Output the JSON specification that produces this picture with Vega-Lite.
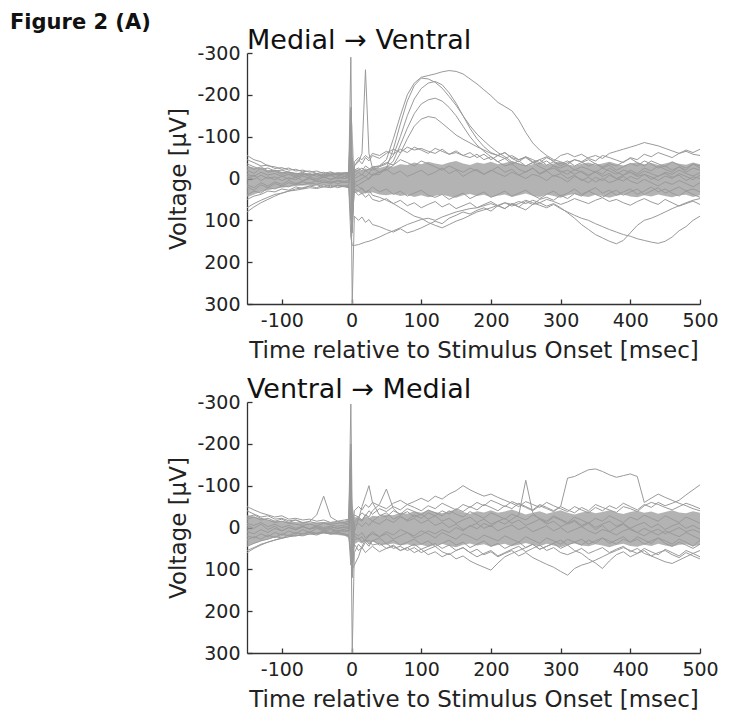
{
"$schema": "https://vega.github.io/schema/vega-lite/v6.json",
"padding": {"left": 10, "top": 12, "right": 5, "bottom": 5},
"background": "white",
"title": {"text": "Figure 2 (A)", "anchor": "start", "frame": "group", "fontSize": 21, "fontWeight": "bold", "font": "DejaVu Sans", "color": "#111", "dx": -237, "dy": 6, "offset": 0},
"bounds": "flush",
"spacing": 98,
"config": {
 "font": "DejaVu Sans",
 "view": {"stroke": null},
 "title": {"anchor": "start", "frame": "group", "fontSize": 27, "fontWeight": "normal", "font": "DejaVu Sans", "color": "#111", "offset": -11},
 "axis": {"grid": false, "domainColor": "#333", "domainWidth": 1.3, "tickColor": "#333", "tickWidth": 1.3, "tickSize": -5, "labelFontSize": 19, "labelColor": "#222", "labelFont": "DejaVu Sans", "titleFont": "DejaVu Sans", "titleFontSize": 23, "titleFontWeight": "normal", "titleColor": "#222", "labelFlush": false, "labelExpr": "'' + datum.value"},
 "axisX": {"labelPadding": 12, "titleY": 53, "titleBaseline": "alphabetic"},
 "axisY": {"labelPadding": 12, "titleX": -57}
},
"datasets": {
"top": [
{"t":-150,"a":-10,"b":15,"c":-30,"d":40,"e":-5,"f":50,"g":20,"h":-20,"i":-45,"j":0,"k":-55,"l":70,"m":80,"n":-35,"lo":-30,"hi":45},
{"t":-140,"a":-5,"b":22,"c":-22,"d":30,"e":2,"f":42,"g":28,"h":-12,"i":-38,"j":-8,"k":-45,"l":60,"m":68,"n":-28,"lo":-26,"hi":38},
{"t":-130,"a":-15,"b":10,"c":-28,"d":35,"e":-8,"f":38,"g":15,"h":-25,"i":-30,"j":5,"k":-40,"l":52,"m":58,"n":-22,"lo":-22,"hi":32},
{"t":-120,"a":-8,"b":18,"c":-18,"d":22,"e":0,"f":30,"g":22,"h":-15,"i":-32,"j":-4,"k":-30,"l":45,"m":50,"n":-25,"lo":-20,"hi":28},
{"t":-110,"a":-12,"b":8,"c":-20,"d":25,"e":-4,"f":32,"g":12,"h":-18,"i":-24,"j":3,"k":-28,"l":38,"m":42,"n":-18,"lo":-18,"hi":24},
{"t":-100,"a":-5,"b":14,"c":-14,"d":18,"e":5,"f":25,"g":18,"h":-10,"i":-26,"j":-6,"k":-22,"l":35,"m":35,"n":-20,"lo":-16,"hi":22},
{"t":-90,"a":-10,"b":5,"c":-16,"d":20,"e":-2,"f":28,"g":10,"h":-14,"i":-20,"j":2,"k":-25,"l":30,"m":30,"n":-15,"lo":-15,"hi":20},
{"t":-80,"a":-3,"b":12,"c":-10,"d":12,"e":3,"f":20,"g":15,"h":-6,"i":-22,"j":-3,"k":-18,"l":28,"m":25,"n":-12,"lo":-14,"hi":18},
{"t":-70,"a":-8,"b":6,"c":-15,"d":15,"e":-6,"f":24,"g":8,"h":-12,"i":-16,"j":5,"k":-20,"l":25,"m":22,"n":-10,"lo":-13,"hi":17},
{"t":-60,"a":-12,"b":0,"c":-8,"d":10,"e":0,"f":18,"g":12,"h":-4,"i":-18,"j":-2,"k":-15,"l":22,"m":18,"n":-8,"lo":-12,"hi":16},
{"t":-50,"a":-5,"b":8,"c":-12,"d":14,"e":4,"f":22,"g":5,"h":-10,"i":-12,"j":0,"k":-18,"l":24,"m":15,"n":-12,"lo":-12,"hi":16},
{"t":-40,"a":-10,"b":3,"c":-6,"d":8,"e":-3,"f":15,"g":10,"h":-2,"i":-15,"j":-5,"k":-12,"l":20,"m":20,"n":-6,"lo":-12,"hi":16},
{"t":-30,"a":-6,"b":10,"c":-14,"d":12,"e":2,"f":20,"g":6,"h":-8,"i":-10,"j":3,"k":-16,"l":22,"m":16,"n":-10,"lo":-13,"hi":17},
{"t":-20,"a":-12,"b":4,"c":-9,"d":6,"e":-5,"f":16,"g":12,"h":0,"i":-14,"j":-2,"k":-10,"l":18,"m":22,"n":-8,"lo":-14,"hi":18},
{"t":-10,"a":-8,"b":7,"c":-12,"d":10,"e":0,"f":18,"g":8,"h":-5,"i":-12,"j":0,"k":-14,"l":20,"m":18,"n":-5,"lo":-15,"hi":20},
{"t":-4,"a":-10,"b":5,"c":-10,"d":8,"e":-2,"f":20,"g":10,"h":-3,"i":-15,"j":-5,"k":-12,"l":22,"m":15,"n":-8,"lo":-16,"hi":22},
{"t":-1,"a":-140,"b":-100,"c":-160,"d":-80,"e":-60,"f":140,"g":-90,"h":-120,"i":-170,"j":-110,"k":-290,"l":-40,"m":100,"n":-60,"lo":-160,"hi":110},
{"t":1,"a":70,"b":90,"c":40,"d":120,"e":60,"f":160,"g":100,"h":80,"i":110,"j":70,"k":20,"l":300,"m":-50,"n":130,"lo":-130,"hi":140},
{"t":4,"a":-15,"b":10,"c":-20,"d":20,"e":0,"f":160,"g":30,"h":10,"i":-40,"j":-30,"k":-30,"l":90,"m":25,"n":-5,"lo":-20,"hi":35},
{"t":10,"a":-20,"b":5,"c":-25,"d":15,"e":-5,"f":158,"g":40,"h":20,"i":-50,"j":-40,"k":-45,"l":100,"m":30,"n":-15,"lo":-22,"hi":32},
{"t":15,"a":-25,"b":0,"c":-18,"d":10,"e":-10,"f":155,"g":35,"h":25,"i":-45,"j":-60,"k":-35,"l":92,"m":22,"n":-8,"lo":-18,"hi":38},
{"t":20,"a":-18,"b":-5,"c":-30,"d":5,"e":-4,"f":152,"g":45,"h":32,"i":-55,"j":-260,"k":-50,"l":105,"m":35,"n":-20,"lo":-24,"hi":34},
{"t":25,"a":-22,"b":2,"c":-24,"d":0,"e":-12,"f":150,"g":38,"h":28,"i":-48,"j":-60,"k":-42,"l":98,"m":28,"n":-12,"lo":-22,"hi":36},
{"t":30,"a":-28,"b":-8,"c":-20,"d":-10,"e":-8,"f":147,"g":50,"h":40,"i":-60,"j":-25,"k":-55,"l":110,"m":20,"n":-25,"lo":-26,"hi":33},
{"t":40,"a":-30,"b":-10,"c":-28,"d":-15,"e":-15,"f":140,"g":55,"h":45,"i":-55,"j":-15,"k":-48,"l":115,"m":32,"n":-30,"lo":-25,"hi":38},
{"t":50,"a":-45,"b":-25,"c":-35,"d":-25,"e":-20,"f":132,"g":48,"h":52,"i":-65,"j":-22,"k":-60,"l":122,"m":25,"n":-38,"lo":-30,"hi":40},
{"t":60,"a":-95,"b":-70,"c":-55,"d":-42,"e":-32,"f":125,"g":60,"h":60,"i":-58,"j":-10,"k":-70,"l":128,"m":38,"n":-32,"lo":-28,"hi":37},
{"t":70,"a":-150,"b":-130,"c":-100,"d":-80,"e":-60,"f":118,"g":52,"h":70,"i":-70,"j":-18,"k":-62,"l":120,"m":30,"n":-45,"lo":-34,"hi":42},
{"t":80,"a":-200,"b":-185,"c":-150,"d":-120,"e":-95,"f":110,"g":65,"h":80,"i":-62,"j":-5,"k":-75,"l":130,"m":42,"n":-38,"lo":-32,"hi":39},
{"t":90,"a":-228,"b":-222,"c":-190,"d":-155,"e":-125,"f":104,"g":58,"h":90,"i":-75,"j":-12,"k":-68,"l":125,"m":35,"n":-30,"lo":-38,"hi":44},
{"t":100,"a":-242,"b":-240,"c":-215,"d":-178,"e":-142,"f":98,"g":70,"h":95,"i":-68,"j":-20,"k":-72,"l":118,"m":28,"n":-42,"lo":-34,"hi":40},
{"t":110,"a":-246,"b":-238,"c":-228,"d":-188,"e":-148,"f":95,"g":62,"h":105,"i":-60,"j":-8,"k":-65,"l":110,"m":40,"n":-35,"lo":-40,"hi":45},
{"t":120,"a":-250,"b":-230,"c":-232,"d":-192,"e":-145,"f":100,"g":55,"h":112,"i":-72,"j":-15,"k":-60,"l":102,"m":45,"n":-28,"lo":-36,"hi":41},
{"t":130,"a":-255,"b":-216,"c":-224,"d":-185,"e":-132,"f":92,"g":68,"h":118,"i":-65,"j":-25,"k":-70,"l":108,"m":38,"n":-20,"lo":-33,"hi":38},
{"t":140,"a":-258,"b":-196,"c":-205,"d":-170,"e":-118,"f":86,"g":60,"h":110,"i":-58,"j":-12,"k":-58,"l":95,"m":50,"n":-30,"lo":-38,"hi":43},
{"t":150,"a":-256,"b":-175,"c":-180,"d":-150,"e":-104,"f":80,"g":72,"h":102,"i":-62,"j":-20,"k":-66,"l":88,"m":42,"n":-22,"lo":-42,"hi":46},
{"t":160,"a":-250,"b":-150,"c":-150,"d":-125,"e":-94,"f":76,"g":65,"h":96,"i":-55,"j":-5,"k":-55,"l":80,"m":35,"n":-15,"lo":-36,"hi":40},
{"t":170,"a":-238,"b":-126,"c":-120,"d":-100,"e":-85,"f":72,"g":58,"h":88,"i":-50,"j":-15,"k":-62,"l":85,"m":48,"n":-25,"lo":-32,"hi":37},
{"t":180,"a":-226,"b":-106,"c":-95,"d":-80,"e":-76,"f":70,"g":70,"h":80,"i":-58,"j":-22,"k":-50,"l":76,"m":40,"n":-18,"lo":-38,"hi":42},
{"t":190,"a":-212,"b":-90,"c":-76,"d":-65,"e":-68,"f":65,"g":62,"h":75,"i":-45,"j":-10,"k":-58,"l":70,"m":32,"n":-10,"lo":-35,"hi":39},
{"t":200,"a":-198,"b":-75,"c":-62,"d":-52,"e":-60,"f":60,"g":55,"h":70,"i":-52,"j":-18,"k":-45,"l":78,"m":45,"n":-20,"lo":-40,"hi":45},
{"t":210,"a":-182,"b":-62,"c":-55,"d":-40,"e":-55,"f":66,"g":65,"h":64,"i":-40,"j":-28,"k":-55,"l":65,"m":38,"n":-12,"lo":-34,"hi":41},
{"t":220,"a":-172,"b":-52,"c":-48,"d":-30,"e":-62,"f":58,"g":72,"h":58,"i":-48,"j":-15,"k":-62,"l":72,"m":30,"n":-5,"lo":-37,"hi":38},
{"t":230,"a":-162,"b":-40,"c":-55,"d":-35,"e":-50,"f":62,"g":60,"h":66,"i":-35,"j":-22,"k":-48,"l":60,"m":42,"n":-15,"lo":-42,"hi":44},
{"t":240,"a":-140,"b":-35,"c":-45,"d":-22,"e":-45,"f":55,"g":68,"h":60,"i":-42,"j":-8,"k":-40,"l":68,"m":35,"n":-8,"lo":-36,"hi":40},
{"t":250,"a":-110,"b":-30,"c":-50,"d":-15,"e":-52,"f":60,"g":75,"h":52,"i":-30,"j":-16,"k":-52,"l":55,"m":28,"n":0,"lo":-30,"hi":36},
{"t":260,"a":-85,"b":-38,"c":-38,"d":-25,"e":-40,"f":52,"g":62,"h":58,"i":-38,"j":-25,"k":-45,"l":62,"m":40,"n":-10,"lo":-34,"hi":41},
{"t":270,"a":-68,"b":-28,"c":-45,"d":-10,"e":-35,"f":58,"g":58,"h":64,"i":-45,"j":-12,"k":-38,"l":50,"m":48,"n":-5,"lo":-38,"hi":44},
{"t":280,"a":-55,"b":-20,"c":-52,"d":-18,"e":-42,"f":50,"g":66,"h":70,"i":-32,"j":-20,"k":-50,"l":45,"m":38,"n":5,"lo":-32,"hi":38},
{"t":290,"a":-45,"b":-25,"c":-40,"d":-5,"e":-30,"f":55,"g":60,"h":62,"i":-40,"j":-30,"k":-42,"l":52,"m":30,"n":-8,"lo":-36,"hi":42},
{"t":300,"a":-40,"b":-15,"c":-35,"d":-12,"e":-25,"f":62,"g":70,"h":72,"i":-30,"j":-18,"k":-55,"l":40,"m":42,"n":-2,"lo":-40,"hi":46},
{"t":310,"a":-34,"b":-20,"c":-42,"d":0,"e":-32,"f":56,"g":82,"h":80,"i":-38,"j":-10,"k":-60,"l":48,"m":35,"n":8,"lo":-34,"hi":40},
{"t":320,"a":-45,"b":-10,"c":-30,"d":-8,"e":-20,"f":48,"g":95,"h":88,"i":-45,"j":-22,"k":-52,"l":36,"m":25,"n":-5,"lo":-30,"hi":37},
{"t":330,"a":-40,"b":-18,"c":-38,"d":5,"e":-28,"f":54,"g":110,"h":95,"i":-40,"j":-15,"k":-58,"l":42,"m":38,"n":2,"lo":-35,"hi":42},
{"t":340,"a":-30,"b":-8,"c":-45,"d":-3,"e":-22,"f":60,"g":122,"h":100,"i":-50,"j":-5,"k":-48,"l":30,"m":30,"n":10,"lo":-38,"hi":44},
{"t":350,"a":-36,"b":-15,"c":-35,"d":8,"e":-15,"f":52,"g":134,"h":108,"i":-55,"j":-18,"k":-42,"l":38,"m":22,"n":-3,"lo":-33,"hi":39},
{"t":360,"a":-25,"b":-5,"c":-28,"d":0,"e":-25,"f":46,"g":142,"h":115,"i":-48,"j":-10,"k":-55,"l":45,"m":35,"n":5,"lo":-36,"hi":42},
{"t":370,"a":-32,"b":-12,"c":-36,"d":10,"e":-18,"f":55,"g":150,"h":122,"i":-60,"j":-25,"k":-50,"l":35,"m":28,"n":-8,"lo":-40,"hi":46},
{"t":380,"a":-20,"b":0,"c":-30,"d":4,"e":-10,"f":50,"g":156,"h":128,"i":-65,"j":-15,"k":-44,"l":28,"m":40,"n":0,"lo":-35,"hi":41},
{"t":390,"a":-28,"b":-8,"c":-40,"d":-5,"e":-20,"f":58,"g":148,"h":134,"i":-70,"j":-8,"k":-38,"l":40,"m":32,"n":6,"lo":-31,"hi":38},
{"t":400,"a":-36,"b":-15,"c":-48,"d":6,"e":-15,"f":64,"g":130,"h":138,"i":-75,"j":-20,"k":-50,"l":32,"m":25,"n":-5,"lo":-36,"hi":43},
{"t":410,"a":-30,"b":-5,"c":-38,"d":12,"e":-8,"f":55,"g":112,"h":144,"i":-80,"j":-12,"k":-45,"l":25,"m":38,"n":2,"lo":-39,"hi":45},
{"t":420,"a":-42,"b":-10,"c":-30,"d":2,"e":-18,"f":48,"g":100,"h":148,"i":-86,"j":-25,"k":-58,"l":38,"m":30,"n":-10,"lo":-34,"hi":40},
{"t":430,"a":-35,"b":2,"c":-42,"d":10,"e":-12,"f":56,"g":95,"h":152,"i":-82,"j":-18,"k":-52,"l":30,"m":20,"n":-4,"lo":-37,"hi":43},
{"t":440,"a":-25,"b":-6,"c":-35,"d":18,"e":-5,"f":62,"g":88,"h":155,"i":-78,"j":-30,"k":-62,"l":22,"m":32,"n":5,"lo":-32,"hi":38},
{"t":450,"a":-30,"b":-12,"c":-28,"d":8,"e":-15,"f":50,"g":80,"h":150,"i":-72,"j":-22,"k":-56,"l":35,"m":25,"n":-6,"lo":-36,"hi":42},
{"t":460,"a":-20,"b":-3,"c":-40,"d":14,"e":-10,"f":58,"g":72,"h":140,"i":-66,"j":-15,"k":-50,"l":28,"m":35,"n":0,"lo":-40,"hi":45},
{"t":470,"a":-28,"b":-8,"c":-32,"d":5,"e":-20,"f":66,"g":65,"h":125,"i":-60,"j":-28,"k":-60,"l":20,"m":42,"n":-12,"lo":-35,"hi":40},
{"t":480,"a":-15,"b":5,"c":-25,"d":12,"e":-12,"f":60,"g":58,"h":115,"i":-65,"j":-20,"k":-68,"l":30,"m":30,"n":-5,"lo":-33,"hi":39},
{"t":490,"a":-25,"b":-4,"c":-35,"d":20,"e":-6,"f":54,"g":52,"h":100,"i":-58,"j":-35,"k":-62,"l":25,"m":38,"n":3,"lo":-38,"hi":44},
{"t":500,"a":-20,"b":0,"c":-30,"d":10,"e":-14,"f":62,"g":48,"h":90,"i":-55,"j":-25,"k":-70,"l":32,"m":45,"n":-8,"lo":-34,"hi":40}
],
"bot": [
{"t":-150,"a":-40,"b":60,"c":10,"d":-20,"e":30,"f":-10,"g":45,"h":-5,"i":-50,"j":20,"k":55,"l":-25,"lo":-30,"hi":45},
{"t":-140,"a":-32,"b":50,"c":15,"d":-25,"e":22,"f":-5,"g":38,"h":2,"i":-42,"j":25,"k":48,"l":-30,"lo":-26,"hi":38},
{"t":-130,"a":-25,"b":42,"c":5,"d":-18,"e":28,"f":-12,"g":32,"h":-8,"i":-35,"j":15,"k":40,"l":-22,"lo":-22,"hi":32},
{"t":-120,"a":-28,"b":35,"c":12,"d":-22,"e":18,"f":-2,"g":28,"h":5,"i":-30,"j":22,"k":35,"l":-18,"lo":-18,"hi":28},
{"t":-110,"a":-20,"b":30,"c":2,"d":-15,"e":24,"f":-8,"g":22,"h":-3,"i":-25,"j":12,"k":30,"l":-12,"lo":-16,"hi":24},
{"t":-100,"a":-22,"b":25,"c":8,"d":-20,"e":15,"f":0,"g":25,"h":8,"i":-28,"j":18,"k":26,"l":-15,"lo":-15,"hi":22},
{"t":-90,"a":-16,"b":22,"c":0,"d":-12,"e":20,"f":-5,"g":18,"h":0,"i":-20,"j":8,"k":22,"l":-10,"lo":-14,"hi":20},
{"t":-80,"a":-18,"b":18,"c":5,"d":-18,"e":12,"f":2,"g":20,"h":6,"i":-22,"j":15,"k":20,"l":-8,"lo":-13,"hi":18},
{"t":-70,"a":-12,"b":20,"c":-2,"d":-10,"e":16,"f":-3,"g":15,"h":-2,"i":-18,"j":5,"k":18,"l":-5,"lo":-12,"hi":16},
{"t":-60,"a":-14,"b":15,"c":3,"d":-15,"e":10,"f":4,"g":12,"h":4,"i":-20,"j":12,"k":16,"l":-8,"lo":-12,"hi":15},
{"t":-50,"a":-10,"b":18,"c":-5,"d":-30,"e":14,"f":-2,"g":16,"h":0,"i":-15,"j":2,"k":14,"l":-4,"lo":-12,"hi":15},
{"t":-40,"a":-12,"b":12,"c":0,"d":-75,"e":8,"f":3,"g":10,"h":5,"i":-18,"j":8,"k":12,"l":-10,"lo":-12,"hi":15},
{"t":-30,"a":-8,"b":16,"c":-3,"d":-25,"e":12,"f":-1,"g":14,"h":2,"i":-12,"j":5,"k":15,"l":-6,"lo":-13,"hi":16},
{"t":-20,"a":-10,"b":14,"c":2,"d":-15,"e":6,"f":2,"g":12,"h":8,"i":-15,"j":10,"k":12,"l":-3,"lo":-14,"hi":18},
{"t":-10,"a":-12,"b":18,"c":-2,"d":-10,"e":10,"f":0,"g":15,"h":4,"i":-18,"j":6,"k":16,"l":-6,"lo":-16,"hi":20},
{"t":-4,"a":-15,"b":20,"c":0,"d":-8,"e":8,"f":-2,"g":18,"h":2,"i":-20,"j":8,"k":20,"l":-8,"lo":-20,"hi":25},
{"t":-1,"a":-295,"b":-60,"c":-120,"d":-80,"e":-40,"f":-150,"g":90,"h":-100,"i":-200,"j":-130,"k":60,"l":-180,"lo":-140,"hi":80},
{"t":1,"a":-20,"b":300,"c":80,"d":110,"e":90,"f":60,"g":-30,"h":120,"i":40,"j":90,"k":100,"l":70,"lo":-60,"hi":120},
{"t":4,"a":-30,"b":60,"c":10,"d":-10,"e":15,"f":-5,"g":20,"h":40,"i":-40,"j":30,"k":90,"l":-15,"lo":-25,"hi":40},
{"t":10,"a":-25,"b":40,"c":-20,"d":-20,"e":20,"f":-10,"g":28,"h":55,"i":-50,"j":25,"k":70,"l":-25,"lo":-24,"hi":34},
{"t":15,"a":-35,"b":50,"c":-50,"d":-15,"e":12,"f":-2,"g":22,"h":48,"i":-42,"j":35,"k":45,"l":-18,"lo":-20,"hi":38},
{"t":20,"a":-28,"b":35,"c":-75,"d":-30,"e":25,"f":-12,"g":35,"h":60,"i":-55,"j":28,"k":30,"l":-30,"lo":-26,"hi":33},
{"t":25,"a":-40,"b":45,"c":-100,"d":-25,"e":18,"f":-5,"g":30,"h":52,"i":-48,"j":40,"k":20,"l":-22,"lo":-23,"hi":37},
{"t":30,"a":-32,"b":30,"c":-60,"d":-40,"e":10,"f":-15,"g":42,"h":45,"i":-60,"j":32,"k":15,"l":-15,"lo":-28,"hi":34},
{"t":40,"a":-45,"b":42,"c":-30,"d":-55,"e":22,"f":-8,"g":38,"h":58,"i":-52,"j":25,"k":22,"l":-28,"lo":-26,"hi":39},
{"t":50,"a":-38,"b":38,"c":-25,"d":-92,"e":15,"f":-20,"g":50,"h":50,"i":-45,"j":38,"k":10,"l":-35,"lo":-31,"hi":41},
{"t":60,"a":-50,"b":50,"c":-40,"d":-45,"e":28,"f":-12,"g":45,"h":42,"i":-58,"j":30,"k":18,"l":-20,"lo":-29,"hi":38},
{"t":70,"a":-42,"b":45,"c":-32,"d":-30,"e":20,"f":-25,"g":55,"h":55,"i":-65,"j":42,"k":5,"l":-28,"lo":-35,"hi":43},
{"t":80,"a":-55,"b":55,"c":-45,"d":-38,"e":12,"f":-18,"g":48,"h":48,"i":-55,"j":35,"k":12,"l":-15,"lo":-33,"hi":40},
{"t":90,"a":-48,"b":48,"c":-38,"d":-25,"e":25,"f":-30,"g":60,"h":40,"i":-62,"j":28,"k":20,"l":-22,"lo":-39,"hi":45},
{"t":100,"a":-40,"b":60,"c":-30,"d":-32,"e":18,"f":-22,"g":52,"h":52,"i":-70,"j":40,"k":8,"l":-10,"lo":-35,"hi":41},
{"t":110,"a":-52,"b":52,"c":-42,"d":-20,"e":8,"f":-35,"g":65,"h":45,"i":-62,"j":32,"k":15,"l":-18,"lo":-41,"hi":46},
{"t":120,"a":-45,"b":45,"c":-35,"d":-28,"e":15,"f":-28,"g":58,"h":38,"i":-75,"j":45,"k":25,"l":-5,"lo":-37,"hi":42},
{"t":130,"a":-58,"b":58,"c":-28,"d":-15,"e":5,"f":-40,"g":70,"h":50,"i":-68,"j":38,"k":12,"l":-12,"lo":-34,"hi":39},
{"t":140,"a":-50,"b":65,"c":-40,"d":-22,"e":12,"f":-32,"g":62,"h":42,"i":-80,"j":30,"k":20,"l":0,"lo":-39,"hi":44},
{"t":150,"a":-42,"b":55,"c":-32,"d":-10,"e":0,"f":-45,"g":75,"h":55,"i":-88,"j":42,"k":28,"l":-8,"lo":-43,"hi":47},
{"t":160,"a":-55,"b":48,"c":-25,"d":-18,"e":8,"f":-38,"g":68,"h":48,"i":-100,"j":35,"k":15,"l":5,"lo":-37,"hi":41},
{"t":170,"a":-48,"b":60,"c":-38,"d":-25,"e":-5,"f":-50,"g":80,"h":60,"i":-90,"j":48,"k":22,"l":-3,"lo":-33,"hi":38},
{"t":180,"a":-60,"b":70,"c":-30,"d":-12,"e":3,"f":-42,"g":88,"h":52,"i":-82,"j":40,"k":30,"l":-10,"lo":-39,"hi":43},
{"t":190,"a":-52,"b":62,"c":-22,"d":-20,"e":-10,"f":-55,"g":95,"h":65,"i":-75,"j":32,"k":18,"l":2,"lo":-36,"hi":40},
{"t":200,"a":-65,"b":55,"c":-35,"d":-8,"e":-2,"f":-48,"g":102,"h":58,"i":-80,"j":45,"k":25,"l":-5,"lo":-41,"hi":46},
{"t":210,"a":-58,"b":68,"c":-28,"d":-15,"e":-15,"f":-40,"g":85,"h":70,"i":-72,"j":38,"k":32,"l":8,"lo":-35,"hi":42},
{"t":220,"a":-50,"b":60,"c":-20,"d":-22,"e":-8,"f":-52,"g":70,"h":62,"i":-65,"j":50,"k":20,"l":0,"lo":-38,"hi":39},
{"t":230,"a":-62,"b":52,"c":-32,"d":-10,"e":-20,"f":-45,"g":62,"h":55,"i":-58,"j":42,"k":28,"l":-6,"lo":-43,"hi":45},
{"t":240,"a":-55,"b":45,"c":-25,"d":-18,"e":-30,"f":-58,"g":55,"h":68,"i":-50,"j":35,"k":35,"l":5,"lo":-37,"hi":41},
{"t":250,"a":-48,"b":58,"c":-18,"d":-5,"e":-113,"f":-50,"g":48,"h":60,"i":-62,"j":48,"k":22,"l":-2,"lo":-31,"hi":37},
{"t":260,"a":-40,"b":50,"c":-30,"d":-12,"e":-35,"f":-42,"g":40,"h":72,"i":-55,"j":40,"k":30,"l":10,"lo":-35,"hi":42},
{"t":270,"a":-52,"b":42,"c":-22,"d":-20,"e":-20,"f":-55,"g":52,"h":80,"i":-48,"j":52,"k":38,"l":3,"lo":-39,"hi":45},
{"t":280,"a":-45,"b":55,"c":-15,"d":-8,"e":-12,"f":-48,"g":45,"h":88,"i":-60,"j":45,"k":25,"l":-4,"lo":-33,"hi":39},
{"t":290,"a":-38,"b":48,"c":-28,"d":-15,"e":-25,"f":-40,"g":38,"h":95,"i":-52,"j":38,"k":32,"l":8,"lo":-37,"hi":43},
{"t":300,"a":-50,"b":60,"c":-20,"d":-2,"e":-18,"f":-50,"g":30,"h":105,"i":-45,"j":50,"k":40,"l":0,"lo":-41,"hi":47},
{"t":310,"a":-42,"b":65,"c":-12,"d":-10,"e":-8,"f":-118,"g":42,"h":114,"i":-38,"j":42,"k":28,"l":12,"lo":-35,"hi":41},
{"t":320,"a":-35,"b":58,"c":-25,"d":-18,"e":-15,"f":-122,"g":35,"h":98,"i":-50,"j":55,"k":35,"l":5,"lo":-31,"hi":38},
{"t":330,"a":-48,"b":50,"c":-18,"d":-5,"e":-2,"f":-130,"g":28,"h":90,"i":-42,"j":62,"k":42,"l":-2,"lo":-36,"hi":43},
{"t":340,"a":-40,"b":62,"c":-10,"d":-12,"e":-10,"f":-138,"g":40,"h":85,"i":-35,"j":75,"k":30,"l":8,"lo":-39,"hi":45},
{"t":350,"a":-55,"b":55,"c":-22,"d":0,"e":5,"f":-140,"g":32,"h":78,"i":-48,"j":85,"k":38,"l":15,"lo":-34,"hi":40},
{"t":360,"a":-48,"b":48,"c":-15,"d":-8,"e":-5,"f":-134,"g":25,"h":70,"i":-40,"j":98,"k":25,"l":5,"lo":-37,"hi":43},
{"t":370,"a":-42,"b":60,"c":-28,"d":-15,"e":10,"f":-126,"g":38,"h":62,"i":-52,"j":80,"k":32,"l":10,"lo":-41,"hi":47},
{"t":380,"a":-36,"b":52,"c":-20,"d":-3,"e":0,"f":-120,"g":30,"h":55,"i":-45,"j":65,"k":40,"l":18,"lo":-36,"hi":42},
{"t":390,"a":-50,"b":45,"c":-12,"d":-10,"e":-8,"f":-124,"g":22,"h":48,"i":-58,"j":58,"k":28,"l":8,"lo":-32,"hi":39},
{"t":400,"a":-45,"b":58,"c":-25,"d":2,"e":5,"f":-128,"g":35,"h":55,"i":-50,"j":70,"k":35,"l":2,"lo":-37,"hi":44},
{"t":410,"a":-38,"b":50,"c":-18,"d":-6,"e":12,"f":-122,"g":28,"h":62,"i":-42,"j":62,"k":22,"l":12,"lo":-40,"hi":46},
{"t":420,"a":-52,"b":62,"c":-30,"d":-12,"e":2,"f":-60,"g":40,"h":50,"i":-55,"j":55,"k":30,"l":20,"lo":-35,"hi":41},
{"t":430,"a":-60,"b":68,"c":-22,"d":0,"e":10,"f":-70,"g":32,"h":58,"i":-48,"j":68,"k":38,"l":10,"lo":-38,"hi":44},
{"t":440,"a":-55,"b":60,"c":-15,"d":-8,"e":18,"f":-80,"g":25,"h":65,"i":-60,"j":75,"k":25,"l":4,"lo":-33,"hi":39},
{"t":450,"a":-48,"b":55,"c":-28,"d":5,"e":8,"f":-72,"g":38,"h":52,"i":-52,"j":82,"k":32,"l":15,"lo":-37,"hi":43},
{"t":460,"a":-42,"b":65,"c":-20,"d":-4,"e":15,"f":-65,"g":45,"h":60,"i":-58,"j":86,"k":40,"l":8,"lo":-41,"hi":46},
{"t":470,"a":-50,"b":72,"c":-12,"d":-10,"e":22,"f":-58,"g":35,"h":68,"i":-65,"j":78,"k":28,"l":0,"lo":-36,"hi":41},
{"t":480,"a":-58,"b":60,"c":-25,"d":2,"e":12,"f":-52,"g":42,"h":55,"i":-78,"j":70,"k":35,"l":10,"lo":-34,"hi":40},
{"t":490,"a":-52,"b":68,"c":-18,"d":-5,"e":20,"f":-45,"g":50,"h":62,"i":-90,"j":62,"k":45,"l":5,"lo":-39,"hi":45},
{"t":500,"a":-45,"b":75,"c":-10,"d":4,"e":28,"f":-40,"g":40,"h":70,"i":-102,"j":55,"k":30,"l":12,"lo":-35,"hi":41}
]
},
"vconcat": [
{
 "width": 453, "height": 251,
 "title": {"text": "Medial → Ventral"},
 "data": {"name": "top"},
 "layer": [
  {"mark": {"type": "area", "color": "#9a9a9a", "opacity": 0.75},
   "encoding": {
    "x": {"field": "t", "type": "quantitative", "scale": {"domain": [-150, 500], "nice": false, "zero": false}, "axis": {"title": "Time relative to Stimulus Onset [msec]", "values": [-100, 0, 100, 200, 300, 400, 500]}},
    "y": {"field": "lo", "type": "quantitative", "scale": {"domain": [-300, 300], "reverse": true, "nice": false}, "axis": {"title": "Voltage [μV]", "values": [-300, -200, -100, 0, 100, 200, 300]}},
    "y2": {"field": "hi"}}},
  {"transform": [{"fold": ["a","b","c","d","e","f","g","h","i","j","k","l","m","n"], "as": ["s", "v"]}],
   "mark": {"type": "line", "color": "#9a9a9a", "strokeWidth": 1},
   "encoding": {
    "x": {"field": "t", "type": "quantitative", "scale": {"domain": [-150, 500], "nice": false, "zero": false}, "axis": {"title": "Time relative to Stimulus Onset [msec]", "values": [-100, 0, 100, 200, 300, 400, 500]}},
    "y": {"field": "v", "type": "quantitative", "scale": {"domain": [-300, 300], "reverse": true, "nice": false}, "axis": {"title": "Voltage [μV]", "values": [-300, -200, -100, 0, 100, 200, 300]}},
    "detail": {"field": "s", "type": "nominal"}}}
 ]
},
{
 "width": 453, "height": 251,
 "title": {"text": "Ventral → Medial"},
 "data": {"name": "bot"},
 "layer": [
  {"mark": {"type": "area", "color": "#9a9a9a", "opacity": 0.75},
   "encoding": {
    "x": {"field": "t", "type": "quantitative", "scale": {"domain": [-150, 500], "nice": false, "zero": false}, "axis": {"title": "Time relative to Stimulus Onset [msec]", "values": [-100, 0, 100, 200, 300, 400, 500]}},
    "y": {"field": "lo", "type": "quantitative", "scale": {"domain": [-300, 300], "reverse": true, "nice": false}, "axis": {"title": "Voltage [μV]", "values": [-300, -200, -100, 0, 100, 200, 300]}},
    "y2": {"field": "hi"}}},
  {"transform": [{"fold": ["a","b","c","d","e","f","g","h","i","j","k","l"], "as": ["s", "v"]}],
   "mark": {"type": "line", "color": "#9a9a9a", "strokeWidth": 1},
   "encoding": {
    "x": {"field": "t", "type": "quantitative", "scale": {"domain": [-150, 500], "nice": false, "zero": false}, "axis": {"title": "Time relative to Stimulus Onset [msec]", "values": [-100, 0, 100, 200, 300, 400, 500]}},
    "y": {"field": "v", "type": "quantitative", "scale": {"domain": [-300, 300], "reverse": true, "nice": false}, "axis": {"title": "Voltage [μV]", "values": [-300, -200, -100, 0, 100, 200, 300]}},
    "detail": {"field": "s", "type": "nominal"}}}
 ]
}
]
}
